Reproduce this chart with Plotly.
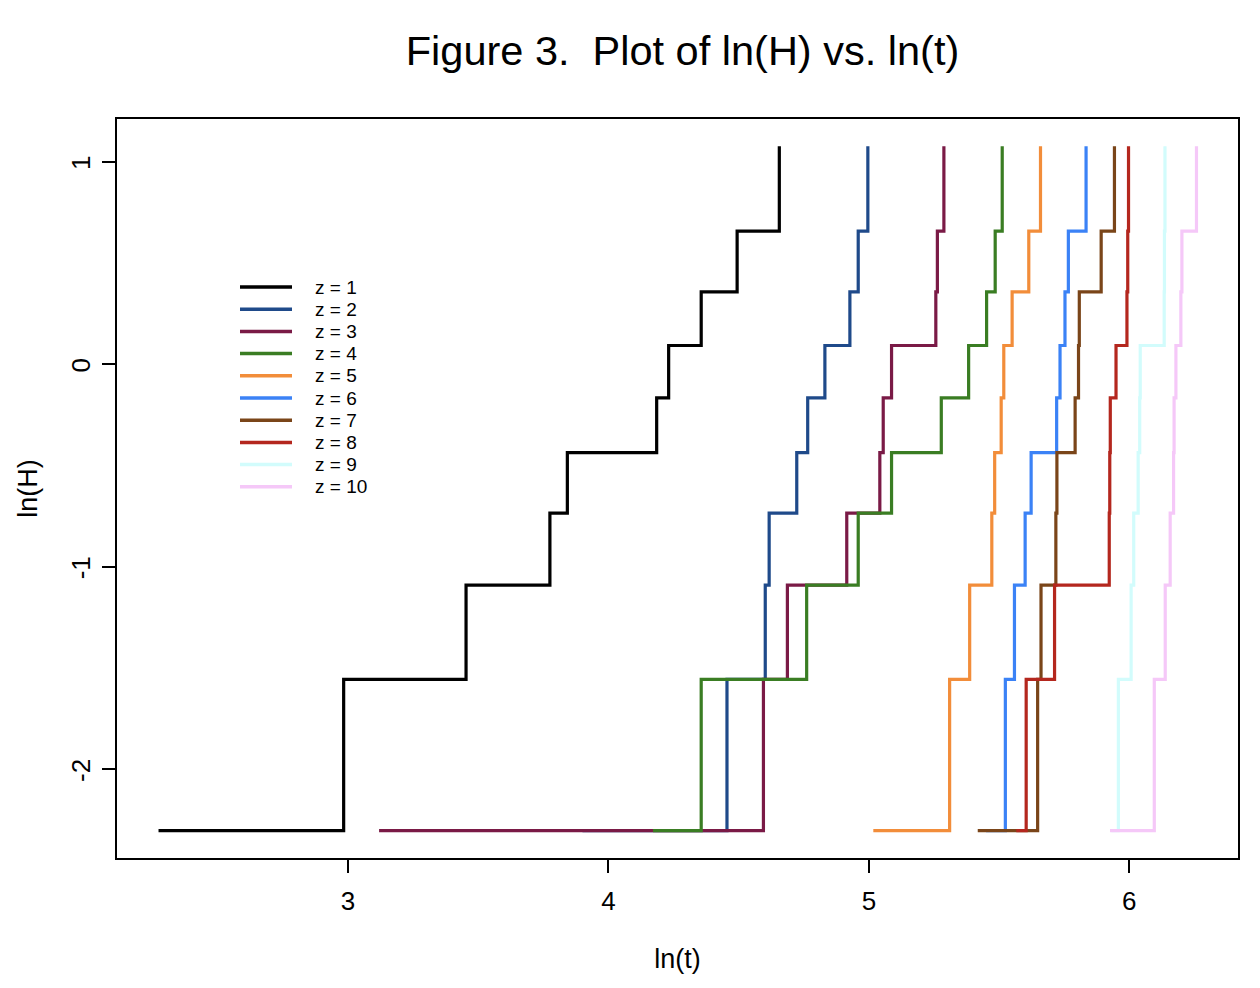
import plotly.graph_objects as go

# ln of cumulative hazard levels (same steps for every group)
lnH = [-2.303, -1.556, -1.091, -0.736, -0.437, -0.167, 0.092, 0.357, 0.657, 1.075]

# ln(t) event times for each group
lnt_z1 = [2.272, 2.983, 3.453, 3.775, 3.842, 4.185, 4.231, 4.356, 4.494, 4.656]
lnt_z2 = [3.900, 4.455, 4.602, 4.617, 4.723, 4.765, 4.831, 4.927, 4.959, 4.996]
lnt_z3 = [3.119, 4.595, 4.687, 4.915, 5.042, 5.055, 5.087, 5.257, 5.263, 5.288]
lnt_z4 = [4.171, 4.356, 4.761, 4.959, 5.087, 5.278, 5.383, 5.452, 5.485, 5.512]
lnt_z5 = [5.017, 5.310, 5.387, 5.472, 5.483, 5.508, 5.518, 5.550, 5.614, 5.659]
lnt_z6 = [5.450, 5.524, 5.559, 5.600, 5.623, 5.721, 5.734, 5.753, 5.766, 5.834]
lnt_z7 = [5.418, 5.648, 5.661, 5.718, 5.722, 5.792, 5.805, 5.808, 5.892, 5.943]
lnt_z8 = [5.566, 5.604, 5.713, 5.923, 5.925, 5.927, 5.949, 5.991, 5.994, 5.997]
lnt_z9 = [5.931, 5.958, 6.007, 6.017, 6.034, 6.040, 6.042, 6.134, 6.135, 6.137]
lnt_z10 = [5.926, 6.096, 6.138, 6.157, 6.170, 6.172, 6.179, 6.198, 6.202, 6.258]

series_names = ["z = 1", "z = 2", "z = 3", "z = 4", "z = 5",
                "z = 6", "z = 7", "z = 8", "z = 9", "z = 10"]
series_x = [lnt_z1, lnt_z2, lnt_z3, lnt_z4, lnt_z5,
            lnt_z6, lnt_z7, lnt_z8, lnt_z9, lnt_z10]
colors = ["#000000", "#1F4A8A", "#7A1A46", "#3A7D23", "#F28D3A",
          "#3B82F6", "#7A4519", "#B4271E", "#D2FCFC", "#F5C8F8"]

x_ticks = [3, 4, 5, 6]
y_ticks = [-2, -1, 0, 1]

FONT = "Liberation Sans, Arial, Helvetica, sans-serif"

fig = go.Figure()
for name, xs, col in zip(series_names, series_x, colors):
    fig.add_trace(go.Scatter(
        x=xs, y=lnH, mode="lines", name=name,
        line=dict(color=col, width=3.2, shape="hv"),
    ))

# R-style 4% axis extension
all_x = [v for xs in series_x for v in xs]
xmin, xmax = min(all_x), max(all_x)
ymin, ymax = min(lnH), max(lnH)
xr = [xmin - 0.04 * (xmax - xmin), xmax + 0.04 * (xmax - xmin)]
yr = [ymin - 0.04 * (ymax - ymin), ymax + 0.04 * (ymax - ymin)]

axis_common = dict(
    showgrid=False, zeroline=False, showline=True, linecolor="#000000",
    linewidth=1.5, mirror=True, ticks="outside", ticklen=13, tickwidth=1.5,
    tickcolor="#000000", tickfont=dict(family=FONT, size=26, color="#000000"),
)

# page body has an 8px margin; the figure is laid out in its own coordinates
ML, MR, MT, MB = 109, 30, 111, 138
W, H = 1260, 988
PW, PH = W - ML - MR, H - MT - MB


def px_to_paper_x(px):
    return (px - ML) / PW


def px_to_paper_y(py):
    return (H - MB - py) / PH


# legend (R style: long line sample, text to the right)
shapes = []
annotations = []
for i, (name, col) in enumerate(zip(series_names, colors)):
    yc = px_to_paper_y(279 + 22.2 * i)
    shapes.append(dict(type="line", xref="paper", yref="paper",
                       x0=px_to_paper_x(232), x1=px_to_paper_x(284), y0=yc, y1=yc,
                       line=dict(color=col, width=3.5)))
    annotations.append(dict(text=name, xref="paper", yref="paper",
                            x=px_to_paper_x(305), y=yc, xanchor="left", yanchor="middle",
                            showarrow=False,
                            font=dict(family=FONT, size=19, color="#000000")))

fig.update_layout(
    width=W, height=H,
    margin=dict(l=ML, r=MR, t=MT, b=MB),
    paper_bgcolor="white", plot_bgcolor="white",
    title=dict(text="Figure 3.  Plot of ln(H) vs. ln(t)",
               x=0.5 + 5 / PW, xref="paper",
               y=1 - 42 / H, yanchor="middle",
               font=dict(family=FONT, size=41.5, color="#000000")),
    xaxis=dict(range=xr, tickvals=x_ticks, ticktext=[str(v) for v in x_ticks],
               ticklabelstandoff=6,
               title=dict(text="ln(t)", standoff=34,
                          font=dict(family=FONT, size=27, color="#000000")),
               **axis_common),
    yaxis=dict(range=yr, tickvals=y_ticks, ticktext=[str(v) for v in y_ticks],
               tickangle=-90, ticklabelstandoff=2, ticklabelshift=5,
               title=dict(text="ln(H)", standoff=20,
                          font=dict(family=FONT, size=27, color="#000000")),
               **axis_common),
    showlegend=False,
    shapes=shapes,
    annotations=annotations,
)

fig.write_html("out.html")
